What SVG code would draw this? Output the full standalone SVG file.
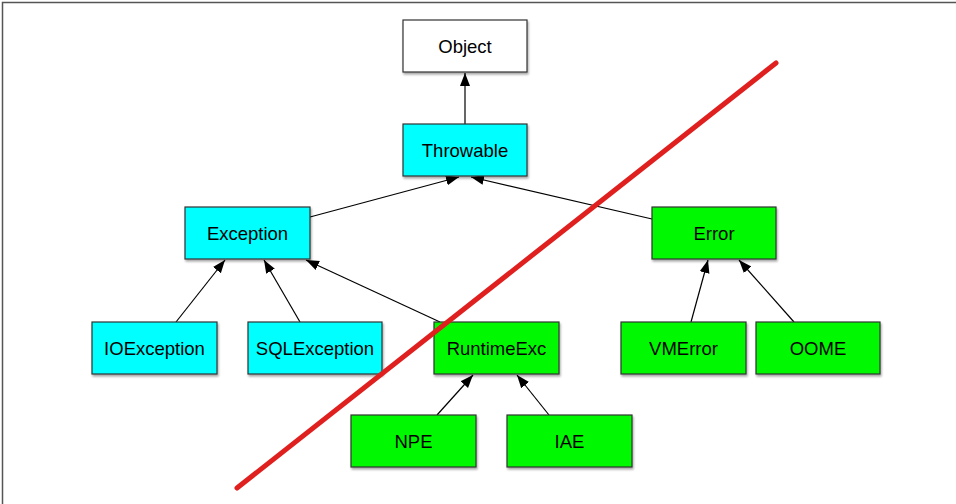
<svg xmlns="http://www.w3.org/2000/svg" width="956" height="504" viewBox="0 0 956 504">
  <defs>
    <marker id="arrow" markerUnits="userSpaceOnUse" markerWidth="14" markerHeight="12" viewBox="0 0 14 12" refX="13" refY="6" orient="auto">
      <path d="M0,1 L13,6 L0,11 Z" fill="#000"/>
    </marker>
    <filter id="shadow" x="-10%" y="-10%" width="120%" height="130%">
      <feDropShadow dx="1" dy="2" stdDeviation="1.2" flood-color="#000" flood-opacity="0.35"/>
    </filter>
  </defs>
  <style>
    .box { stroke: #333; stroke-width: 1.2; filter: url(#shadow); }
    .white { fill: #ffffff; }
    .cyan { fill: #00ffff; }
    .green { fill: #00f900; }
    .label { font-family: "Liberation Sans", Arial, Helvetica, sans-serif; font-size: 18.5px; fill: #000; text-anchor: middle; }
    .conn { stroke: #000; stroke-width: 1.2; fill: none; marker-end: url(#arrow); }
  </style>
  <rect x="0" y="0" width="956" height="504" fill="#fff"/>
  <rect x="2.5" y="2.5" width="980" height="530" fill="none" stroke="#555" stroke-width="1.5"/>

  <g id="connectors">
    <line class="conn" x1="465" y1="124" x2="465" y2="73"/>
    <line class="conn" x1="310" y1="217" x2="459" y2="177"/>
    <line class="conn" x1="652" y1="219" x2="471" y2="177"/>
    <line class="conn" x1="176" y1="322" x2="225" y2="260"/>
    <line class="conn" x1="300" y1="322" x2="264" y2="260"/>
    <line class="conn" x1="440" y1="322" x2="306" y2="260"/>
    <line class="conn" x1="691" y1="322" x2="708" y2="260"/>
    <line class="conn" x1="794" y1="322" x2="739" y2="260"/>
    <line class="conn" x1="437" y1="415" x2="473" y2="375"/>
    <line class="conn" x1="549" y1="415" x2="517" y2="375"/>
  </g>

  <g id="node-object">
    <rect class="box white" x="403" y="20" width="124" height="52"/>
    <text class="label" x="465" y="52.5">Object</text>
  </g>
  <g id="node-throwable">
    <rect class="box cyan" x="403" y="124" width="124" height="52"/>
    <text class="label" x="465" y="156.5">Throwable</text>
  </g>
  <g id="node-exception">
    <rect class="box cyan" x="185" y="207" width="125" height="52"/>
    <text class="label" x="247.5" y="239.5">Exception</text>
  </g>
  <g id="node-error">
    <rect class="box green" x="652" y="207" width="124" height="52"/>
    <text class="label" x="714" y="239.5">Error</text>
  </g>
  <g id="node-ioexception">
    <rect class="box cyan" x="92" y="322" width="125" height="52"/>
    <text class="label" x="154.5" y="354.5">IOException</text>
  </g>
  <g id="node-sqlexception">
    <rect class="box cyan" x="248" y="322" width="134" height="52"/>
    <text class="label" x="315" y="354.5">SQLException</text>
  </g>
  <g id="node-runtimeexc">
    <rect class="box green" x="434" y="322" width="125" height="52"/>
    <text class="label" x="496.5" y="354.5">RuntimeExc</text>
  </g>
  <g id="node-vmerror">
    <rect class="box green" x="621" y="322" width="125" height="52"/>
    <text class="label" x="683.5" y="354.5">VMError</text>
  </g>
  <g id="node-oome">
    <rect class="box green" x="756" y="322" width="124" height="52"/>
    <text class="label" x="818" y="354.5">OOME</text>
  </g>
  <g id="node-npe">
    <rect class="box green" x="351" y="415" width="125" height="52"/>
    <text class="label" x="413.5" y="447.5">NPE</text>
  </g>
  <g id="node-iae">
    <rect class="box green" x="507" y="415" width="125" height="52"/>
    <text class="label" x="569.5" y="447.5">IAE</text>
  </g>

  <line id="strike" x1="237" y1="488" x2="776" y2="63" stroke="#e01f1f" stroke-width="5" stroke-linecap="round"/>
</svg>
